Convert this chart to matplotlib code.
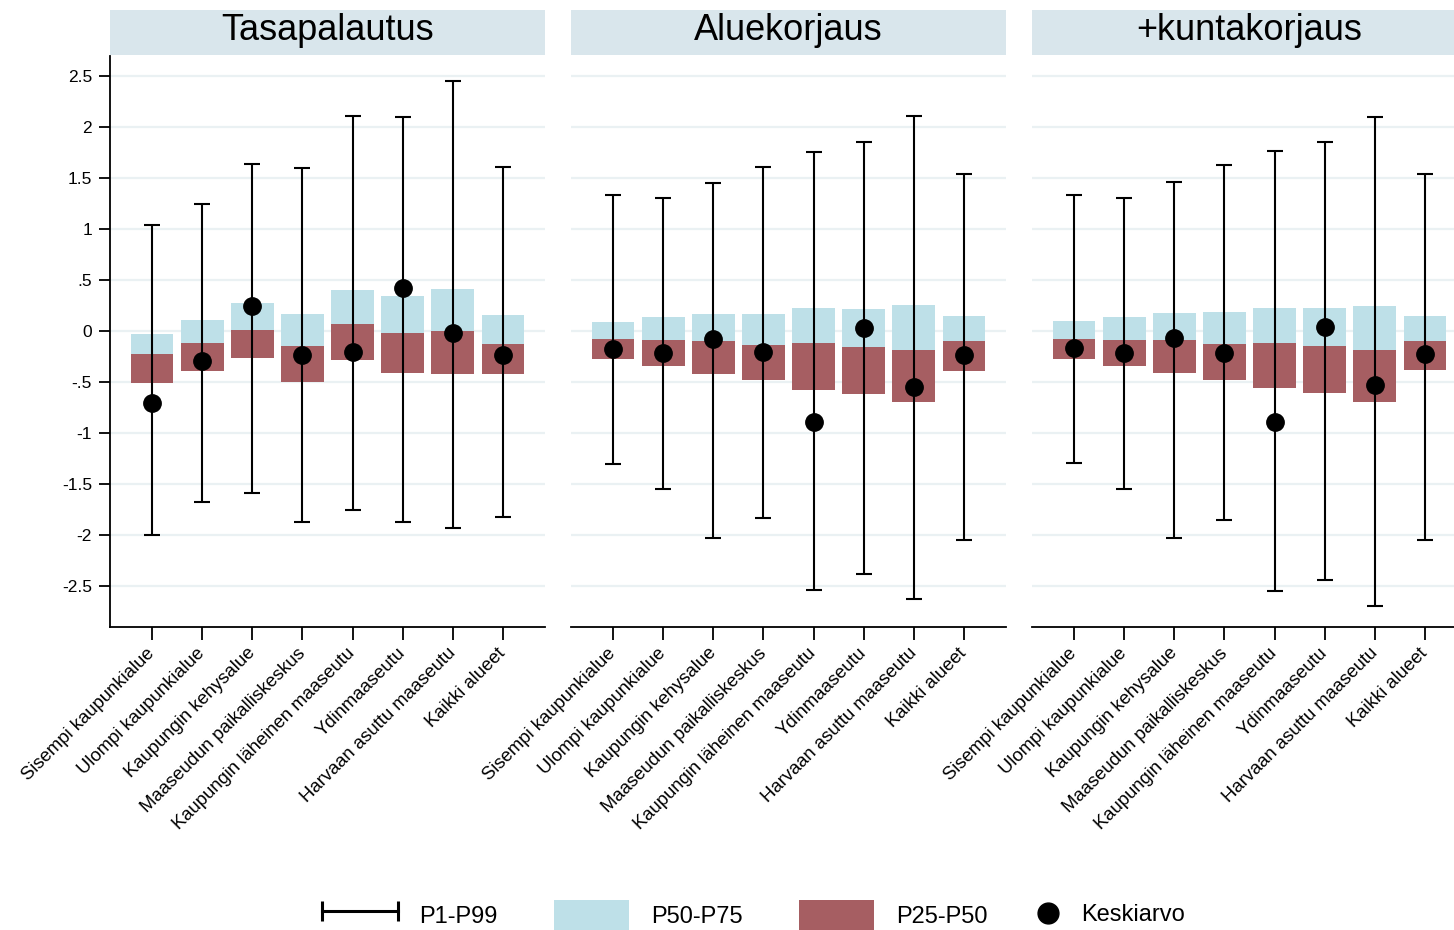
import matplotlib
matplotlib.use("Agg")
import matplotlib.pyplot as plt
import numpy as np
from matplotlib.lines import Line2D
from matplotlib.patches import Patch
from matplotlib.legend_handler import HandlerLine2D

plt.rcParams["font.family"] = ["Liberation Sans", "DejaVu Sans"]

C_UPPER = "#bee0e8"
C_LOWER = "#a65e62"
C_STRIP = "#d9e6ec"
C_GRID = "#eaf1f3"

REGIONS = [
    "Sisempi kaupunkialue",
    "Ulompi kaupunkialue",
    "Kaupungin kehysalue",
    "Maaseudun paikalliskeskus",
    "Kaupungin läheinen maaseutu",
    "Ydinmaaseutu",
    "Harvaan asuttu maaseutu",
    "Kaikki alueet",
]
PANELS = ["Tasapalautus", "Aluekorjaus", "+kuntakorjaus"]

# Tasapalautus
TASA_P1 = [-2.00, -1.675, -1.59, -1.87, -1.75, -1.875, -1.93, -1.82]
TASA_P25 = [-0.505, -0.39, -0.26, -0.497, -0.28, -0.41, -0.417, -0.417]
TASA_P50 = [-0.22, -0.116, 0.012, -0.148, 0.068, -0.02, 0.0, -0.128]
TASA_P75 = [-0.03, 0.11, 0.276, 0.17, 0.405, 0.345, 0.413, 0.156]
TASA_P99 = [1.04, 1.25, 1.64, 1.60, 2.107, 2.10, 2.456, 1.615]
TASA_MEAN = [-0.705, -0.29, 0.25, -0.228, -0.20, 0.425, -0.02, -0.232]

# Aluekorjaus
ALUE_P1 = [-1.298, -1.546, -2.023, -1.83, -2.54, -2.38, -2.63, -2.043]
ALUE_P25 = [-0.272, -0.34, -0.417, -0.48, -0.573, -0.613, -0.693, -0.389]
ALUE_P50 = [-0.08, -0.088, -0.096, -0.136, -0.116, -0.156, -0.184, -0.092]
ALUE_P75 = [0.096, 0.136, 0.172, 0.172, 0.224, 0.216, 0.256, 0.148]
ALUE_P99 = [1.334, 1.31, 1.458, 1.615, 1.763, 1.855, 2.107, 1.538]
ALUE_MEAN = [-0.176, -0.212, -0.076, -0.204, -0.885, 0.036, -0.545, -0.228]

# +kuntakorjaus
KUNTA_P1 = [-1.29, -1.546, -2.023, -1.85, -2.544, -2.44, -2.696, -2.047]
KUNTA_P25 = [-0.272, -0.34, -0.409, -0.477, -0.557, -0.605, -0.693, -0.377]
KUNTA_P50 = [-0.08, -0.088, -0.088, -0.128, -0.116, -0.148, -0.184, -0.096]
KUNTA_P75 = [0.10, 0.136, 0.176, 0.188, 0.224, 0.224, 0.244, 0.148]
KUNTA_P99 = [1.338, 1.31, 1.462, 1.627, 1.767, 1.859, 2.10, 1.538]
KUNTA_MEAN = [-0.168, -0.208, -0.064, -0.208, -0.885, 0.04, -0.529, -0.224]

DATA = [
    (TASA_P1, TASA_P25, TASA_P50, TASA_P75, TASA_P99, TASA_MEAN),
    (ALUE_P1, ALUE_P25, ALUE_P50, ALUE_P75, ALUE_P99, ALUE_MEAN),
    (KUNTA_P1, KUNTA_P25, KUNTA_P50, KUNTA_P75, KUNTA_P99, KUNTA_MEAN),
]

YTICKS = [2.5, 2, 1.5, 1, 0.5, 0, -0.5, -1, -1.5, -2, -2.5]
YTICKLABELS = ["2.5", "2", "1.5", "1", ".5", "0", "-.5", "-1", "-1.5", "-2", "-2.5"]

W, H = 1454, 930
fig = plt.figure(figsize=(W / 100, H / 100), dpi=100)


def px_axes(left, top, width, height):
    return fig.add_axes([left / W, 1 - (top + height) / H, width / W, height / H])


def draw_panel(ax, p1, p25, p50, p75, p99, mean, first):
    x = np.arange(1, len(REGIONS) + 1)
    p1, p25, p50, p75, p99 = map(np.array, (p1, p25, p50, p75, p99))
    for y in YTICKS:
        ax.axhline(y, color=C_GRID, linewidth=1.6, zorder=0)
    ax.bar(x, p75 - p50, bottom=p50, width=0.85, color=C_UPPER, zorder=2)
    ax.bar(x, p50 - p25, bottom=p25, width=0.85, color=C_LOWER, zorder=2)
    ax.errorbar(x, (p1 + p99) / 2, yerr=(p99 - p1) / 2, fmt="none",
                ecolor="black", elinewidth=1.5, capsize=6, capthick=1.5, zorder=3)
    ax.plot(x, mean, "o", color="black", markersize=12.5, zorder=4)

    ax.set_xlim(0.16, 8.84)
    ax.set_ylim(-2.9, 2.7)
    ax.set_xticks(x)
    ax.set_xticklabels(REGIONS, rotation=45, ha="right", va="center",
                       rotation_mode="anchor", fontsize=13.3)
    ax.tick_params(axis="x", length=9, width=1.3, pad=8)
    for s in ["top", "right"]:
        ax.spines[s].set_visible(False)
    ax.spines["bottom"].set_linewidth(1.3)
    if first:
        ax.set_yticks(YTICKS)
        ax.set_yticklabels(YTICKLABELS, fontsize=12.5)
        ax.tick_params(axis="y", length=8, width=1.3, pad=5)
        ax.spines["left"].set_linewidth(1.3)
    else:
        ax.set_yticks([])
        ax.spines["left"].set_visible(False)


lefts = [110, 571, 1032]
for i, (title, vals) in enumerate(zip(PANELS, DATA)):
    ax = px_axes(lefts[i], 56, 435, 571)
    draw_panel(ax, *vals, first=(i == 0))
    strip = px_axes(lefts[i], 10, 435, 45)
    strip.set_facecolor(C_STRIP)
    strip.set_xticks([])
    strip.set_yticks([])
    for s in strip.spines.values():
        s.set_visible(False)
    strip.text(0.5, 0.33, title, ha="center", va="baseline", fontsize=26,
               transform=strip.transAxes)

# legend: three keys of equal length, then the mean dot with a short key
err_handle = Line2D([], [], color="black", linewidth=2.2, marker="|",
                    markersize=15, markeredgewidth=2.2)
fig.legend(
    [err_handle, Patch(facecolor=C_UPPER, edgecolor="none"),
     Patch(facecolor=C_LOWER, edgecolor="none")],
    ["P1-P99", "P50-P75", "P25-P50"],
    loc="center left", bbox_to_anchor=(322 / W, 1 - 915 / H),
    ncol=3, frameon=False, fontsize=17, handlelength=3.2, handleheight=1.6,
    columnspacing=2.4, handletextpad=0.9, borderpad=0, borderaxespad=0,
    handler_map={err_handle: HandlerLine2D(numpoints=2, marker_pad=0)},
)
fig.legend(
    [Line2D([], [], linestyle="none", marker="o", color="black", markersize=15)],
    ["Keskiarvo"],
    loc="center left", bbox_to_anchor=(1036 / W, 1 - 915 / H),
    frameon=False, fontsize=17, handlelength=1.0, handletextpad=0.9,
    borderpad=0, borderaxespad=0,
)

fig.savefig("out.png", dpi=100)
